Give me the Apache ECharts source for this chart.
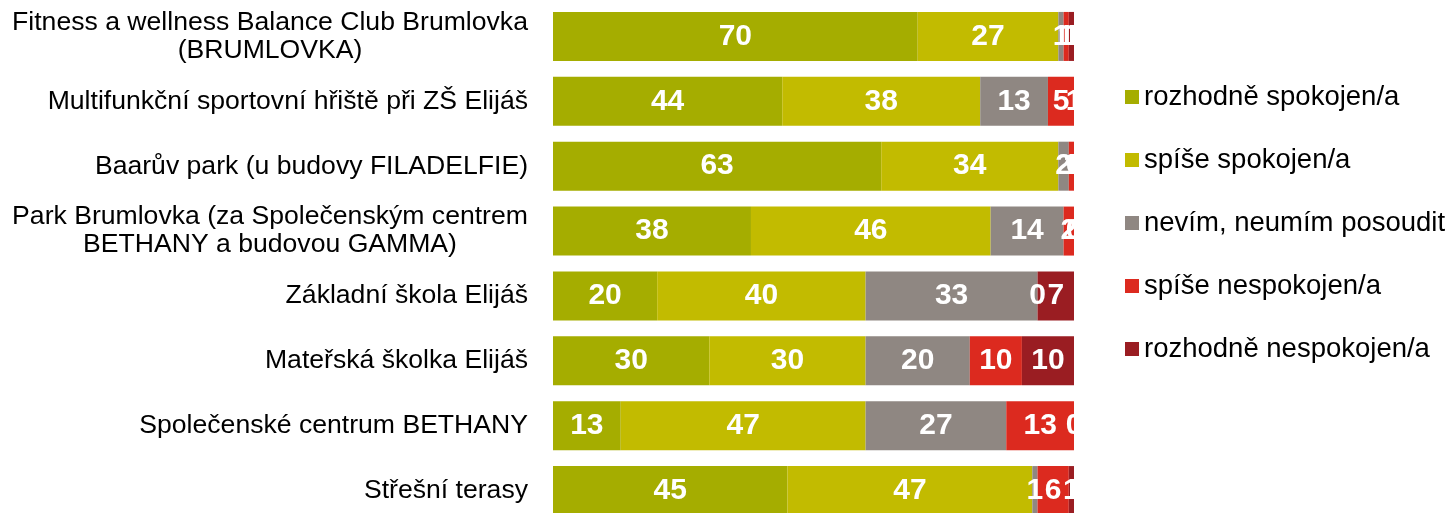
<!DOCTYPE html>
<html>
<head>
<meta charset="utf-8">
<script src="https://cdn.jsdelivr.net/npm/echarts@6/dist/echarts.min.js"></script>
<style>
  html, body { margin: 0; padding: 0; background: #fff; overflow: hidden; }
  /* taller than the window: the last bar runs off the bottom edge as in the original */
  #chart { width: 1456px; height: 530px; }
</style>
</head>
<body>
<div id="chart"></div>
<script>
const categories = [
  'Fitness a wellness Balance Club Brumlovka\n(BRUMLOVKA)',
  'Multifunkční sportovní hřiště při ZŠ Elijáš',
  'Baarův park (u budovy FILADELFIE)',
  'Park Brumlovka (za Společenským centrem\nBETHANY a budovou GAMMA)',
  'Základní škola Elijáš',
  'Mateřská školka Elijáš',
  'Společenské centrum BETHANY',
  'Střešní terasy'
]
const seriesNames = [
  'rozhodně spokojen/a',
  'spíše spokojen/a',
  'nevím, neumím posoudit',
  'spíše nespokojen/a',
  'rozhodně nespokojen/a'
]
const verySatisfied = [70, 44, 63, 38, 20, 30, 13, 45]
const ratherSatisfied = [27, 38, 34, 46, 40, 30, 47, 47]
const dontKnow = [1, 13, 2, 14, 33, 20, 27, 1]
const ratherUnsatisfied = [1, 5, 1, 2, 0, 10, 13, 6]
const veryUnsatisfied = [1, 1, 0, 0, 7, 10, 0, 1]
const colors = ['#a5ad00', '#c2bb00', '#8f8782', '#dc2a1f', '#9a1d22']

const font = "'Liberation Sans', Arial, sans-serif"
const values = [verySatisfied, ratherSatisfied, dontKnow, ratherUnsatisfied, veryUnsatisfied]

// two-line labels are centred as a block, the rest are right-aligned
const yData = categories.map(c => {
  if (c.indexOf('\n') < 0) return c
  return { value: c, textStyle: { align: 'center', padding: [0, 516, 0, 0] } }
})

const chart = echarts.init(document.getElementById('chart'))
chart.setOption({
  animation: false,
  color: colors,
  legend: {
    orient: 'vertical',
    left: 1120,
    top: 78,
    icon: 'rect',
    itemWidth: 14,
    itemHeight: 14,
    itemGap: 35,
    textStyle: { fontFamily: font, fontSize: 27.5, lineHeight: 28, color: '#000' },
    data: seriesNames
  },
  grid: { left: 553, top: 4, width: 521, height: 519, containLabel: false },
  xAxis: { type: 'value', min: 0, max: 100, show: false },
  yAxis: {
    type: 'category',
    inverse: true,
    data: yData,
    axisLine: { show: false },
    axisTick: { show: false },
    splitLine: { show: false },
    axisLabel: {
      margin: 25,
      fontFamily: font,
      fontSize: 26.6,
      lineHeight: 28,
      color: '#000'
    }
  },
  series: seriesNames.map((name, i) => ({
    name: name,
    type: 'bar',
    stack: 'total',
    barWidth: 49,
    data: values[i],
    label: {
      show: true,
      position: 'inside',
      color: '#fff',
      fontFamily: font,
      fontWeight: 'bold',
      fontSize: 30,
      textBorderWidth: 0
    }
  }))
})
</script>
</body>
</html>
